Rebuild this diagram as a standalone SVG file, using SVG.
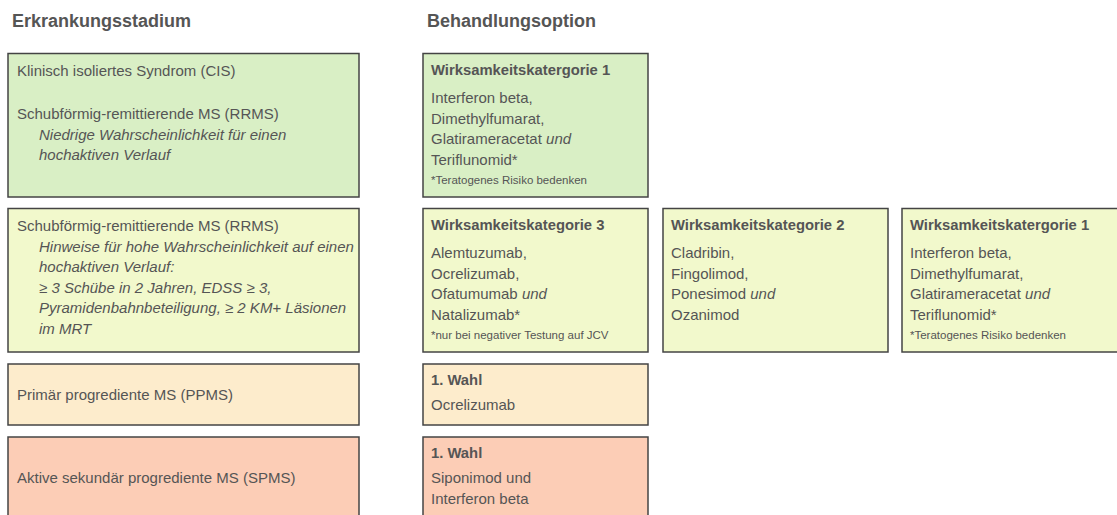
<svg xmlns="http://www.w3.org/2000/svg" width="1117" height="515" viewBox="0 0 1117 515">
<style>
text{font-family:"Liberation Sans",Arial,Helvetica,sans-serif;fill:#555;}
.h{font-size:18px;font-weight:bold;}
.t{font-size:15px;}
.b{font-size:14.8px;font-weight:bold;}
.i{font-style:italic;}
.f{font-size:11.5px;}
.box{stroke:#444;stroke-width:1.5;}
.green{fill:#d9efc5;}
.lime{fill:#f2f9cc;}
.beige{fill:#fdeccc;}
.salmon{fill:#fccdb6;}
</style>
<rect x="0" y="0" width="1117" height="515" fill="#ffffff"/>
<g id="headings">
<text class="h" x="12" y="27">Erkrankungsstadium</text>
<text class="h" x="427" y="27">Behandlungsoption</text>
</g>
<g id="connectors"></g>
<g id="stage-cis-rrms-low">
<rect class="box green" x="8" y="53.5" width="351" height="143.5"/>
<text class="t" x="17" y="76">Klinisch isoliertes Syndrom (CIS)</text>
<text class="t" x="17" y="119">Schubförmig-remittierende MS (RRMS)</text>
<text class="t i" x="39" y="139.5">Niedrige Wahrscheinlichkeit für einen</text>
<text class="t i" x="39" y="160">hochaktiven Verlauf</text>
</g>
<g id="opt-kat1-top">
<rect class="box green" x="423" y="53.5" width="225" height="143.5"/>
<text class="b" x="431" y="75">Wirksamkeitskatergorie 1</text>
<text class="t" x="431" y="103">Interferon beta,</text>
<text class="t" x="431" y="123.5">Dimethylfumarat,</text>
<text class="t" x="431" y="144">Glatirameracetat <tspan class="i">und</tspan></text>
<text class="t" x="431" y="164.5">Teriflunomid*</text>
<text class="f" x="431" y="184">*Teratogenes Risiko bedenken</text>
</g>
<g id="stage-rrms-high">
<rect class="box lime" x="8" y="208.5" width="351" height="143.5"/>
<text class="t" x="17" y="231">Schubförmig-remittierende MS (RRMS)</text>
<text class="t i" x="39" y="251.5">Hinweise für hohe Wahrscheinlichkeit auf einen</text>
<text class="t i" x="39" y="272">hochaktiven Verlauf:</text>
<text class="t i" x="39" y="292.5">≥ 3 Schübe in 2 Jahren, EDSS ≥ 3,</text>
<text class="t i" x="39" y="313">Pyramidenbahnbeteiligung, ≥ 2 KM+ Läsionen</text>
<text class="t i" x="39" y="333.5">im MRT</text>
</g>
<g id="opt-kat3">
<rect class="box lime" x="423" y="208.5" width="225" height="143.5"/>
<text class="b" x="431" y="230">Wirksamkeitskategorie 3</text>
<text class="t" x="431" y="258">Alemtuzumab,</text>
<text class="t" x="431" y="278.5">Ocrelizumab,</text>
<text class="t" x="431" y="299">Ofatumumab <tspan class="i">und</tspan></text>
<text class="t" x="431" y="319.5">Natalizumab*</text>
<text class="f" x="431" y="339">*nur bei negativer Testung auf JCV</text>
</g>
<g id="opt-kat2">
<rect class="box lime" x="663" y="208.5" width="225" height="143.5"/>
<text class="b" x="671" y="230">Wirksamkeitskategorie 2</text>
<text class="t" x="671" y="258">Cladribin,</text>
<text class="t" x="671" y="278.5">Fingolimod,</text>
<text class="t" x="671" y="299">Ponesimod <tspan class="i">und</tspan></text>
<text class="t" x="671" y="319.5">Ozanimod</text>
</g>
<g id="opt-kat1-right">
<rect class="box lime" x="902" y="208.5" width="225" height="143.5"/>
<text class="b" x="910" y="230">Wirksamkeitskatergorie 1</text>
<text class="t" x="910" y="258">Interferon beta,</text>
<text class="t" x="910" y="278.5">Dimethylfumarat,</text>
<text class="t" x="910" y="299">Glatirameracetat <tspan class="i">und</tspan></text>
<text class="t" x="910" y="319.5">Teriflunomid*</text>
<text class="f" x="910" y="339">*Teratogenes Risiko bedenken</text>
</g>
<g id="stage-ppms">
<rect class="box beige" x="8" y="364" width="351" height="61"/>
<text class="t" x="17" y="400">Primär progrediente MS (PPMS)</text>
</g>
<g id="opt-ppms">
<rect class="box beige" x="423" y="364" width="225" height="61"/>
<text class="b" x="431" y="385">1. Wahl</text>
<text class="t" x="431" y="410">Ocrelizumab</text>
</g>
<g id="stage-spms">
<rect class="box salmon" x="8" y="437" width="351" height="84"/>
<text class="t" x="17" y="483">Aktive sekundär progrediente MS (SPMS)</text>
</g>
<g id="opt-spms">
<rect class="box salmon" x="423" y="437" width="225" height="84"/>
<text class="b" x="431" y="458">1. Wahl</text>
<text class="t" x="431" y="483">Siponimod und</text>
<text class="t" x="431" y="504">Interferon beta</text>
</g>
</svg>
